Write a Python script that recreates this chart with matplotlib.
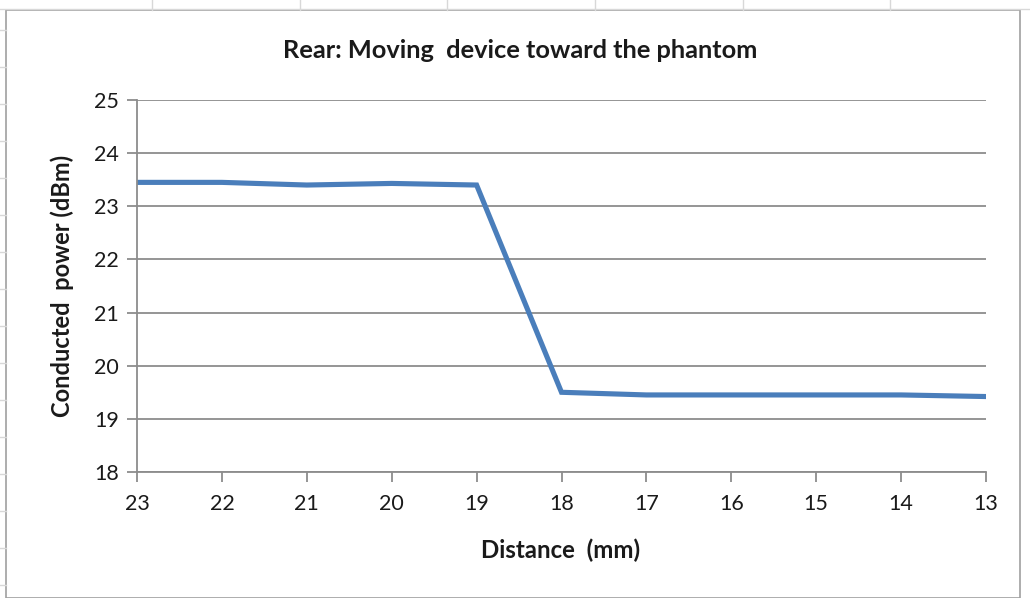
import matplotlib
matplotlib.use("Agg")
import matplotlib.pyplot as plt
from matplotlib.lines import Line2D
from matplotlib.patches import Rectangle

distance_mm = [23, 22, 21, 20, 19, 18, 17, 16, 15, 14, 13]
power_dbm = [23.45, 23.45, 23.40, 23.43, 23.40, 19.50, 19.45, 19.45, 19.45, 19.45, 19.42]
y_ticks = [18, 19, 20, 21, 22, 23, 24, 25]

plt.rcParams['font.family'] = ['Lato', 'DejaVu Sans']

W, H = 1030, 598
fig = plt.figure(figsize=(W / 100, H / 100), dpi=100)
fig.patch.set_facecolor('white')

# spreadsheet background grid
for x in [152, 300, 447, 595, 743, 890]:
    fig.add_artist(Line2D([x / W, x / W], [1 - 0 / H, 1 - 10 / H], color='#d8d8d8', lw=1))
for y in range(30, 598, 37):
    fig.add_artist(Line2D([0, 6 / W], [1 - y / H, 1 - y / H], color='#d8d8d8', lw=1))
fig.add_artist(Line2D([0, 1], [1 - 9 / H, 1 - 9 / H], color='#d8d8d8', lw=1))

# chart area border
fig.add_artist(Rectangle((6 / W, 0.5 / H), (1020 - 6) / W, (598 - 10.5) / H,
                         fill=False, edgecolor='#a0a0a0', lw=1.2))

ax = fig.add_axes([137 / W, 1 - 472 / H, (986 - 137) / W, (472 - 100) / H])
ax.plot(distance_mm, power_dbm, color='#4a7ebb', lw=3.7, solid_joinstyle='miter')
ax.set_xlim(23, 13)
ax.set_ylim(18, 25)
ax.set_xticks(distance_mm)
ax.set_yticks(y_ticks)
ax.grid(axis='y', color='#8c8c8c', lw=1.3)
ax.set_axisbelow(True)
for s in ['top', 'right']:
    ax.spines[s].set_visible(False)
for s in ['left', 'bottom']:
    ax.spines[s].set_color('#8c8c8c')
    ax.spines[s].set_linewidth(1.3)
ax.tick_params(axis='both', colors='#8c8c8c', labelcolor='#1a1a1a', length=7,
               width=1.3, labelsize=15.5)
ax.tick_params(axis='x', pad=9)
ax.tick_params(axis='y', pad=6)

fig.text(520 / W, 1 - 50 / H, 'Rear: Moving  device toward the phantom', ha='center', va='center',
         fontsize=18.3, fontweight='bold', color='#1a1a1a')
fig.text(561 / W, 1 - 550 / H, 'Distance  (mm)', ha='center', va='center',
         fontsize=17.3, fontweight='bold', color='#1a1a1a')
fig.text(62 / W, 1 - 286 / H, 'Conducted  power (dBm)', ha='center', va='center',
         rotation=90, fontsize=17, fontweight='bold', color='#1a1a1a')

fig.savefig('out.png', dpi=100)
